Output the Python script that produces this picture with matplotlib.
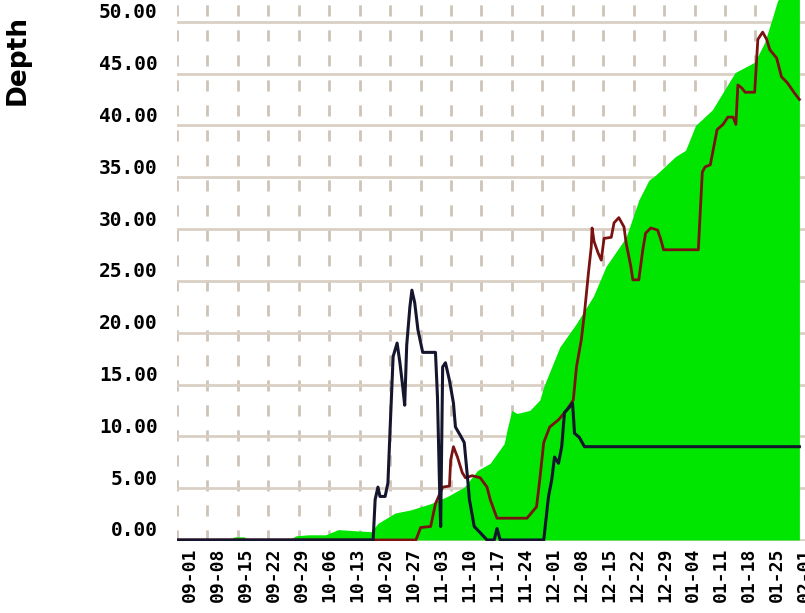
import numpy as np
import matplotlib
matplotlib.use("Agg")
import matplotlib.pyplot as plt
from matplotlib.transforms import ScaledTranslation

# ---- data (x in days since 09-01) ----
week_labels = ["09-01", "09-08", "09-15", "09-22", "09-29", "10-06", "10-13", "10-20",
               "10-27", "11-03", "11-10", "11-17", "11-24", "12-01", "12-08", "12-15",
               "12-22", "12-29", "01-04", "01-11", "01-18", "01-25", "02-01"]
y_ticks = [0, 5, 10, 15, 20, 25, 30, 35, 40, 45, 50]

green_x = [-3.2, 9.9, 11.2, 13.6, 14.9, 24.8, 26.6, 29.8, 34.0, 37.2, 40.9, 45.4, 47.1,
           51.4, 55.3, 60.3, 64.5, 68.7, 72.0, 75.2, 78.7, 79.4, 80.6, 81.9, 85.1, 87.6,
           88.6, 92.6, 96.8, 101.0, 104.2, 109.2, 112.4, 114.9, 116.6, 121.6, 124.1,
           126.6, 130.8, 136.5, 141.4, 143.9, 145.7, 147.1, 152.6]
green_y = [0, 0, 0.3, 0.3, 0, 0, 0.4, 0.5, 0.5, 1.0, 0.9, 0.8, 1.6,
           2.6, 2.9, 3.5, 4.2, 5.1, 6.7, 7.4, 9.3, 10.6, 12.5, 12.2, 12.5, 13.5,
           14.8, 18.6, 20.9, 23.5, 26.4, 29.2, 32.8, 34.7, 35.2, 37.0, 37.6,
           40.0, 41.5, 45.1, 46.1, 48.0, 50.2, 52.0, 55.0]

red_x = [-3.2, 56.6, 57.8, 60.3, 61.5, 63.3, 65.0, 65.3, 66.0, 67.0, 68.2, 69.0, 70.7,
         72.7, 74.4, 75.2, 76.9, 84.4, 86.8, 87.6, 88.6, 90.1, 92.3, 94.3, 96.0, 96.8,
         98.0, 98.8, 99.8, 100.5, 100.7, 101.2, 102.2, 103.0, 103.7, 105.5, 106.2,
         107.4, 108.7, 109.2, 110.4, 110.9, 112.4, 113.4, 114.1, 115.4, 117.1, 117.9,
         118.6, 127.3, 127.8, 128.3, 129.0, 130.3, 131.0, 132.0, 133.5, 134.7, 136.0,
         136.7, 137.2, 138.2, 139.0, 141.4, 142.2, 143.4, 144.4, 145.2, 146.9, 148.1,
         149.6, 151.4, 152.6]
red_y = [0, 0, 1.2, 1.3, 3.5, 5.1, 5.2, 7.7, 9.0, 8.0, 6.5, 6.0, 6.2,
         6.0, 5.1, 3.9, 2.1, 2.1, 3.2, 5.8, 9.4, 10.9, 11.6, 12.5, 13.5, 16.7,
         19.3, 21.9, 25.8, 28.3, 30.1, 28.8, 27.7, 27.0, 29.1, 29.2, 30.6,
         31.1, 30.2, 28.7, 26.4, 25.1, 25.1, 28.0, 29.6, 30.1, 29.9, 29.0,
         28.0, 28.0, 31.8, 35.5, 36.0, 36.2, 37.6, 39.6, 40.1, 40.8, 40.8,
         40.1, 43.9, 43.6, 43.2, 43.2, 48.3, 49.0, 48.3, 47.3, 46.5, 44.7,
         44.1, 43.1, 42.5]

blue_x = [-3.2, 45.9, 46.4, 47.1, 47.6, 48.9, 49.6, 50.1, 50.9, 51.9, 52.6, 53.3, 53.8,
          54.3, 55.1, 55.6, 56.3, 57.1, 58.3, 61.5, 62.0, 62.5, 62.8, 63.3, 64.0, 65.0,
          66.0, 66.5, 67.7, 68.7, 69.5, 70.0, 71.2, 72.7, 74.4, 76.2, 76.9, 77.7, 88.6,
          89.8, 90.6, 91.3, 92.3, 93.1, 93.8, 95.0, 95.8, 96.0, 96.3, 97.5, 98.8, 152.6]
blue_y = [0, 0, 3.9, 5.1, 4.2, 4.2, 5.5, 10.3, 17.7, 19.0, 17.1, 14.8, 13.0,
          18.8, 22.5, 24.1, 22.9, 20.3, 18.1, 18.1, 13.8, 5.5, 1.3, 16.7, 17.1, 15.4,
          13.2, 10.9, 10.1, 9.4, 6.1, 3.9, 1.3, 0.7, 0, 0, 1.1, 0, 0,
          4.2, 5.8, 8.0, 7.4, 9.0, 12.3, 12.8, 13.2, 12.2, 10.3, 9.9, 9.0, 9.0]

# ---- figure ----
W, H = 805, 613
fig = plt.figure(figsize=(W / 100, H / 100), dpi=100)
ax = fig.add_axes([177 / W, (H - 541) / H, (W - 177) / W, 541 / H])
ax.set_xlim(-3.2, 152.6)
ax.set_ylim(-0.1, 52.1)

for s in ax.spines.values():
    s.set_visible(False)

grid_col = "#d9cfc4"
ax.set_axisbelow(True)
ax.set_yticks(y_ticks)
ax.set_yticklabels([f"{v:.2f}" for v in y_ticks])
ax.yaxis.grid(True, color=grid_col, linewidth=2, linestyle="-")

ax.set_xticks(np.arange(len(week_labels)) * 7)
ax.set_xticklabels(week_labels, rotation=90)
ax.set_xticks(np.arange(-3.2, 152.6, 7.62), minor=True)
ax.xaxis.grid(True, which="minor", color="#cdc3b8", linewidth=2, linestyle=(0, (4, 5)))
ax.xaxis.grid(False, which="major")

ax.tick_params(axis="both", which="both", length=0)
ax.tick_params(axis="y", pad=14)
ax.tick_params(axis="x", pad=5)

mono = dict(family="DejaVu Sans Mono", weight="bold")
for lab in ax.get_yticklabels():
    lab.set_fontproperties(matplotlib.font_manager.FontProperties(size=14, **mono))
    lab.set_transform(lab.get_transform() + ScaledTranslation(0, 11 / 100, fig.dpi_scale_trans))
for lab in ax.get_xticklabels():
    lab.set_fontproperties(matplotlib.font_manager.FontProperties(size=13, **mono))

ax.fill_between(green_x, green_y, 0, color="#00e600", linewidth=0, zorder=1)
ax.plot(red_x, red_y, color="#7a1212", linewidth=2, zorder=3)
ax.plot(blue_x, blue_y, color="#15152e", linewidth=2.2, zorder=4)

fig.text(18 / W, 1 - 60 / H, "Depth", rotation=90, ha="center", va="center",
         fontsize=19, fontweight="bold", family="DejaVu Sans")

fig.savefig("out.png", dpi=100)
